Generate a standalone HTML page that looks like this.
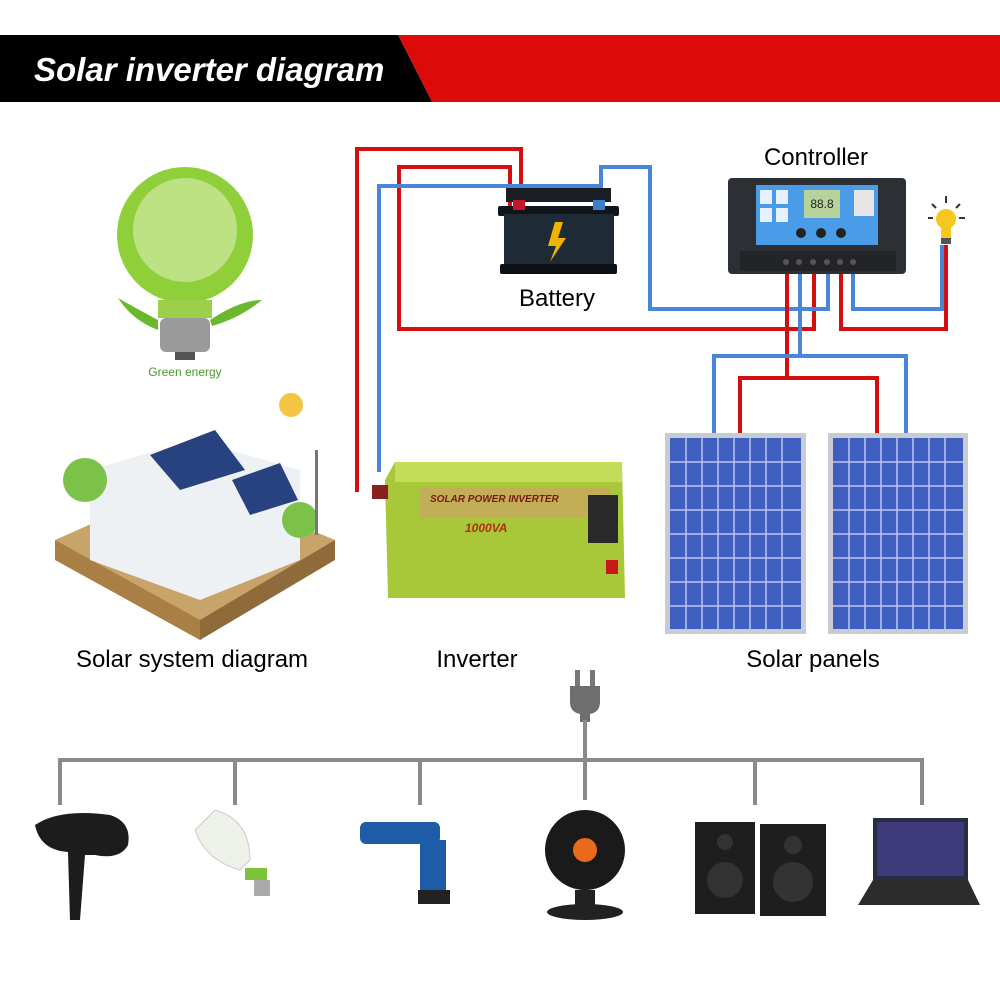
<!DOCTYPE html>
<html><head><meta charset="utf-8"><style>
body{margin:0;background:#fff;}
svg{display:block;}
text{font-family:"Liberation Sans",sans-serif;}
</style></head><body>
<svg width="1000" height="1000" viewBox="0 0 1000 1000" xmlns="http://www.w3.org/2000/svg">
<rect width="1000" height="1000" fill="#fff"/>
<polygon points="398,35 1000,35 1000,102 432,102" fill="#dd0a0a"/>
<polygon points="0,35 398,35 432,102 0,102" fill="#000"/>
<text x="34" y="81" font-size="33" font-weight="bold" font-style="italic" fill="#fff">Solar inverter diagram</text>

<g fill="none" stroke-width="4" stroke-linejoin="miter">
<polyline points="357,492 357,149 521,149 521,210" stroke="#d40e0e"/>
<polyline points="510,210 510,167 399,167 399,329 814,329 814,274" stroke="#d40e0e"/>
<polyline points="379,472 379,186 598,186 598,210" stroke="#4a86d8"/>
<polyline points="601,210 601,167 650,167 650,309 828,309 828,274" stroke="#4a86d8"/>
<polyline points="787,274 787,378" stroke="#d40e0e"/>
<polyline points="740,435 740,378 877,378 877,435" stroke="#d40e0e"/>
<polyline points="800,274 800,356" stroke="#4a86d8"/>
<polyline points="714,435 714,356 906,356 906,435" stroke="#4a86d8"/>
<polyline points="841,274 841,329 946,329 946,245" stroke="#d40e0e"/>
<polyline points="853,274 853,309 942,309 942,245" stroke="#4a86d8"/>
</g>

<rect x="506" y="188" width="105" height="14" fill="#1a1f26"/>
<rect x="498" y="206" width="121" height="10" rx="2" fill="#11151b"/>
<rect x="504" y="214" width="110" height="52" fill="#1e2a36"/>
<rect x="500" y="264" width="117" height="10" rx="2" fill="#0d1014"/>
<rect x="513" y="200" width="12" height="10" fill="#c0182a"/>
<rect x="593" y="200" width="12" height="10" fill="#3a7fc8"/>
<polygon points="555,222 548,246 556,246 550,262 566,238 558,238 563,222" fill="#f0b400"/>
<text x="557" y="306" font-size="24" text-anchor="middle" fill="#000">Battery</text>

<text x="816" y="165" font-size="24" text-anchor="middle" fill="#000">Controller</text>
<rect x="728" y="178" width="178" height="96" rx="4" fill="#2c2f33"/>
<rect x="756" y="185" width="122" height="60" fill="#4a9be8"/>
<rect x="804" y="190" width="36" height="28" fill="#b7d29a"/>
<text x="822" y="208" font-size="12" text-anchor="middle" fill="#222">88.8</text>
<rect x="854" y="190" width="20" height="26" fill="#e6e6e6"/>
<rect x="760" y="190" width="12" height="14" fill="#e8f1ff"/>
<rect x="776" y="190" width="12" height="14" fill="#e8f1ff"/>
<rect x="760" y="208" width="12" height="14" fill="#e8f1ff"/>
<rect x="776" y="208" width="12" height="14" fill="#e8f1ff"/>
<circle cx="801" cy="233" r="5" fill="#222"/><circle cx="821" cy="233" r="5" fill="#222"/><circle cx="841" cy="233" r="5" fill="#222"/>
<rect x="740" y="251" width="156" height="20" fill="#222428"/>
<g fill="#555"><circle cx="786" cy="262" r="3"/><circle cx="799" cy="262" r="3"/><circle cx="813" cy="262" r="3"/><circle cx="827" cy="262" r="3"/><circle cx="840" cy="262" r="3"/><circle cx="853" cy="262" r="3"/></g>

<circle cx="946" cy="219" r="10" fill="#f6c71d"/>
<rect x="941" y="227" width="10" height="12" fill="#f6c71d"/>
<rect x="941" y="238" width="10" height="6" fill="#555"/>
<g stroke="#333" stroke-width="2"><line x1="946" y1="196" x2="946" y2="203"/><line x1="928" y1="218" x2="933" y2="218"/><line x1="959" y1="218" x2="965" y2="218"/><line x1="932" y1="204" x2="936" y2="208"/><line x1="960" y1="204" x2="956" y2="208"/></g>

<rect x="665" y="433" width="141" height="201" fill="#c8ccd2"/>
<rect x="670" y="438" width="131" height="191" fill="#3f5ec0"/>
<rect x="828" y="433" width="140" height="201" fill="#c8ccd2"/>
<rect x="833" y="438" width="130" height="191" fill="#3f5ec0"/>
<g stroke="#d8e0f5" stroke-width="1.5" opacity="0.8">
<line x1="686" y1="438" x2="686" y2="629"/><line x1="702" y1="438" x2="702" y2="629"/><line x1="718" y1="438" x2="718" y2="629"/><line x1="734" y1="438" x2="734" y2="629"/><line x1="750" y1="438" x2="750" y2="629"/><line x1="766" y1="438" x2="766" y2="629"/><line x1="782" y1="438" x2="782" y2="629"/>
<line x1="849" y1="438" x2="849" y2="629"/><line x1="865" y1="438" x2="865" y2="629"/><line x1="881" y1="438" x2="881" y2="629"/><line x1="897" y1="438" x2="897" y2="629"/><line x1="913" y1="438" x2="913" y2="629"/><line x1="929" y1="438" x2="929" y2="629"/><line x1="945" y1="438" x2="945" y2="629"/>
<path d="M670 462H801M670 486H801M670 510H801M670 534H801M670 558H801M670 582H801M670 606H801M833 462H963M833 486H963M833 510H963M833 534H963M833 558H963M833 582H963M833 606H963"/>
</g>
<text x="813" y="667" font-size="24" text-anchor="middle" fill="#000">Solar panels</text>

<polygon points="395,462 622,462 625,598 388,598 385,480" fill="#a8c83a"/>
<rect x="395" y="462" width="227" height="20" fill="#c3dc5a"/>
<rect x="420" y="488" width="190" height="30" fill="#c9a860" opacity="0.8"/>
<text x="430" y="502" font-size="10" font-weight="bold" font-style="italic" fill="#7a1a10">SOLAR POWER INVERTER</text>
<text x="465" y="532" font-size="12" font-weight="bold" font-style="italic" fill="#b03010">1000VA</text>
<rect x="588" y="495" width="30" height="48" fill="#2a2a2a"/>
<rect x="606" y="560" width="12" height="14" fill="#c81818"/>
<rect x="372" y="485" width="16" height="14" fill="#8a2020"/>
<text x="477" y="667" font-size="24" text-anchor="middle" fill="#000">Inverter</text>

<circle cx="185" cy="235" r="68" fill="#8fcf3a"/>
<circle cx="185" cy="230" r="52" fill="#cfe9a3" opacity="0.7"/>
<rect x="158" y="300" width="54" height="18" fill="#9ad04a"/>
<rect x="160" y="318" width="50" height="34" rx="6" fill="#9a9a9a"/>
<rect x="175" y="352" width="20" height="8" fill="#555"/>
<path d="M210 320 Q240 300 262 300 Q240 318 212 326Z" fill="#6bb82c"/>
<path d="M158 320 Q130 305 118 298 Q132 320 158 330Z" fill="#6bb82c"/>
<text x="185" y="376" font-size="12" text-anchor="middle" fill="#4a9a2a">Green energy</text>

<polygon points="55,540 190,480 335,540 200,640" fill="#c9a46a"/>
<polygon points="55,540 200,620 200,640 55,560" fill="#a97f46"/>
<polygon points="200,620 335,540 335,560 200,640" fill="#8f6a3a"/>
<polygon points="90,470 195,440 300,470 300,560 200,600 90,560" fill="#eef1f4"/>
<polygon points="150,455 215,430 245,470 180,490" fill="#27427e"/>
<polygon points="232,480 280,463 298,500 250,515" fill="#27427e"/>
<circle cx="85" cy="480" r="22" fill="#7cc24a"/><circle cx="300" cy="520" r="18" fill="#7cc24a"/>
<circle cx="291" cy="405" r="12" fill="#f4c542"/>
<rect x="315" y="450" width="3" height="85" fill="#777"/>
<text x="192" y="667" font-size="24" text-anchor="middle" fill="#000">Solar system diagram</text>

<rect x="575" y="670" width="5" height="16" fill="#777"/><rect x="590" y="670" width="5" height="16" fill="#777"/>
<path d="M570 686 H600 V702 Q600 712 590 714 V722 H580 V714 Q570 712 570 702Z" fill="#6e6e6e"/>
<g stroke="#8a8a8a" stroke-width="4" fill="none">
<line x1="585" y1="720" x2="585" y2="760"/>
<line x1="58" y1="760" x2="924" y2="760"/>
<line x1="60" y1="758" x2="60" y2="805"/><line x1="235" y1="758" x2="235" y2="805"/><line x1="420" y1="758" x2="420" y2="805"/><line x1="585" y1="758" x2="585" y2="800"/><line x1="755" y1="758" x2="755" y2="805"/><line x1="922" y1="758" x2="922" y2="805"/>
</g>

<path d="M35 825 Q60 808 110 815 Q132 822 128 845 Q120 860 95 855 L85 855 L80 920 L70 920 L68 852 Q40 850 35 825Z" fill="#1c1c1c"/>
<path d="M215 810 Q250 820 250 860 L240 870 Q205 860 195 830Z" fill="#eef0ea" stroke="#ccc"/>
<rect x="245" y="868" width="22" height="12" fill="#7cc23a"/><rect x="254" y="880" width="16" height="16" fill="#aaa"/>
<rect x="360" y="822" width="80" height="22" rx="6" fill="#1f5ca8"/>
<rect x="420" y="840" width="26" height="55" fill="#1f5ca8"/><rect x="418" y="890" width="32" height="14" fill="#222"/>
<circle cx="585" cy="850" r="40" fill="#1a1a1a"/><circle cx="585" cy="850" r="12" fill="#e86a1a"/>
<rect x="575" y="890" width="20" height="16" fill="#222"/><ellipse cx="585" cy="912" rx="38" ry="8" fill="#222"/>
<rect x="695" y="822" width="60" height="92" fill="#1e1e1e"/><rect x="760" y="824" width="66" height="92" fill="#1e1e1e"/>
<circle cx="725" cy="880" r="18" fill="#333"/><circle cx="793" cy="882" r="20" fill="#333"/>
<circle cx="725" cy="842" r="8" fill="#333"/><circle cx="793" cy="845" r="9" fill="#333"/>
<rect x="873" y="818" width="95" height="62" fill="#2a2d40"/><rect x="877" y="822" width="87" height="54" fill="#3e3a7a"/>
<polygon points="873,880 968,880 980,905 858,905" fill="#2c2c2c"/>
</svg>
</body></html>
